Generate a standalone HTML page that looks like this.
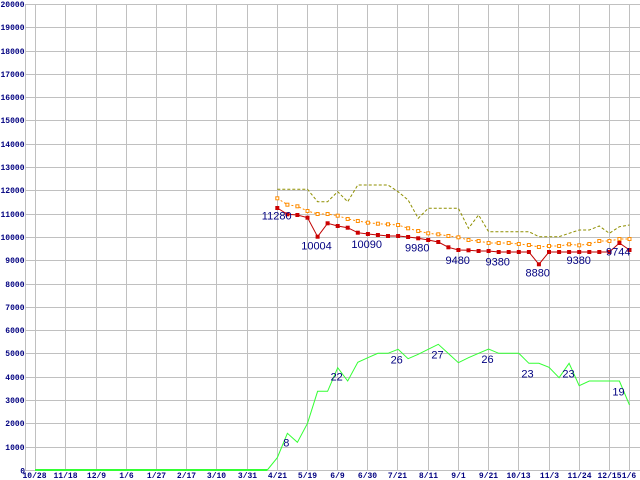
<!DOCTYPE html>
<html>
<head>
<meta charset="utf-8">
<style>
html,body{margin:0;padding:0;background:#fff;}
svg{display:block;}
.ax{font-family:"Liberation Mono",monospace;font-weight:bold;font-size:8px;fill:#000080;}
.lb{font-family:"Liberation Sans",sans-serif;font-size:11px;fill:#000080;text-anchor:middle;}
</style>
</head>
<body>
<svg width="640" height="480" viewBox="0 0 640 480" xmlns="http://www.w3.org/2000/svg">
<rect width="640" height="480" fill="#fff"/>
<g fill="#c0c0c0" shape-rendering="crispEdges">
<!-- horizontal gridlines -->
<rect x="25" y="470" width="615" height="1"/>
<rect x="25" y="447" width="615" height="1"/>
<rect x="25" y="423" width="615" height="1"/>
<rect x="25" y="400" width="615" height="1"/>
<rect x="25" y="377" width="615" height="1"/>
<rect x="25" y="353" width="615" height="1"/>
<rect x="25" y="330" width="615" height="1"/>
<rect x="25" y="307" width="615" height="1"/>
<rect x="25" y="284" width="615" height="1"/>
<rect x="25" y="260" width="615" height="1"/>
<rect x="25" y="237" width="615" height="1"/>
<rect x="25" y="214" width="615" height="1"/>
<rect x="25" y="190" width="615" height="1"/>
<rect x="25" y="167" width="615" height="1"/>
<rect x="25" y="144" width="615" height="1"/>
<rect x="25" y="120" width="615" height="1"/>
<rect x="25" y="97" width="615" height="1"/>
<rect x="25" y="74" width="615" height="1"/>
<rect x="25" y="51" width="615" height="1"/>
<rect x="25" y="27" width="615" height="1"/>
<rect x="25" y="4" width="615" height="1"/>
<!-- vertical gridlines -->
<rect x="25" y="4" width="1" height="467"/>
<rect x="35" y="4" width="1" height="467"/>
<rect x="65" y="4" width="1" height="467"/>
<rect x="96" y="4" width="1" height="467"/>
<rect x="126" y="4" width="1" height="467"/>
<rect x="156" y="4" width="1" height="467"/>
<rect x="186" y="4" width="1" height="467"/>
<rect x="216" y="4" width="1" height="467"/>
<rect x="247" y="4" width="1" height="467"/>
<rect x="277" y="4" width="1" height="467"/>
<rect x="307" y="4" width="1" height="467"/>
<rect x="337" y="4" width="1" height="467"/>
<rect x="367" y="4" width="1" height="467"/>
<rect x="397" y="4" width="1" height="467"/>
<rect x="428" y="4" width="1" height="467"/>
<rect x="458" y="4" width="1" height="467"/>
<rect x="488" y="4" width="1" height="467"/>
<rect x="518" y="4" width="1" height="467"/>
<rect x="549" y="4" width="1" height="467"/>
<rect x="579" y="4" width="1" height="467"/>
<rect x="609" y="4" width="1" height="467"/>
<rect x="629" y="4" width="1" height="467"/>
</g>

<!-- y axis labels -->
<g class="ax" text-anchor="end">
<text x="25" y="473.5">0</text>
<text x="24.5" y="450.2">1000</text>
<text x="24.5" y="426.2">2000</text>
<text x="24.5" y="403.2">3000</text>
<text x="24.5" y="380.2">4000</text>
<text x="24.5" y="356.2">5000</text>
<text x="24.5" y="333.2">6000</text>
<text x="24.5" y="310.2">7000</text>
<text x="24.5" y="287.2">8000</text>
<text x="24.5" y="263.2">9000</text>
<text x="24.5" y="240.2">10000</text>
<text x="24.5" y="217.2">11000</text>
<text x="24.5" y="193.2">12000</text>
<text x="24.5" y="170.2">13000</text>
<text x="24.5" y="147.2">14000</text>
<text x="24.5" y="123.2">15000</text>
<text x="24.5" y="100.2">16000</text>
<text x="24.5" y="77.2">17000</text>
<text x="24.5" y="54.2">18000</text>
<text x="24.5" y="30.2">19000</text>
<text x="24.5" y="7.2">20000</text>
</g>

<!-- x axis labels -->
<g class="ax" text-anchor="middle">
<text x="34.5" y="478">10/28</text>
<text x="65.5" y="478">11/18</text>
<text x="96.5" y="478">12/9</text>
<text x="126.5" y="478">1/6</text>
<text x="156.5" y="478">1/27</text>
<text x="186.5" y="478">2/17</text>
<text x="216.5" y="478">3/10</text>
<text x="247.5" y="478">3/31</text>
<text x="277.5" y="478">4/21</text>
<text x="307.5" y="478">5/19</text>
<text x="337.5" y="478">6/9</text>
<text x="367.5" y="478">6/30</text>
<text x="397.5" y="478">7/21</text>
<text x="428.5" y="478">8/11</text>
<text x="458.5" y="478">9/1</text>
<text x="488.5" y="478">9/21</text>
<text x="518.5" y="478">10/13</text>
<text x="549.5" y="478">11/3</text>
<text x="579.5" y="478">11/24</text>
<text x="609.5" y="478">12/15</text>
<text x="629" y="478">1/6</text>
</g>

<!-- green series -->
<polyline fill="none" stroke="#33ff33" stroke-width="2" points="35,470 267.3,470"/>
<polyline fill="none" stroke="#33ff33" stroke-width="1" points="267.3,470 277.3,457.7 287.4,433.3 297.4,442.3 307.5,423.3 317.6,391.3 327.6,391.3 337.7,367.7 347.7,381 357.8,362.3 367.9,357.7 377.9,353.3 388,353.3 398.1,349.3 408.1,358.7 418.2,354.3 428.2,349.3 438.3,344.3 448.4,353.5 458.4,362.7 468.5,357.7 478.6,353.3 488.6,349 498.7,353.3 508.7,353.3 518.8,353.3 528.9,363.3 538.9,363.3 549,367.3 559.1,377.7 569.1,363.3 579.2,385.7 589.3,381 599.3,381 609.4,381 619.4,381 629.5,405"/>

<!-- olive dashed series -->
<polyline fill="none" stroke="#8f8f00" stroke-width="1" stroke-dasharray="3,2" points="277.3,189.3 287.4,189.3 297.4,189.3 307.5,189.3 317.6,201.7 327.6,201.7 337.7,191.7 347.7,201.7 357.8,185 367.9,185 377.9,185 388,185 398.1,191.7 408.1,200 418.2,218.3 428.2,208.3 438.3,208.3 448.4,208.3 458.4,208.3 468.5,228.3 478.6,215 488.6,231.7 498.7,231.7 508.7,231.7 518.8,231.7 528.9,231.7 538.9,236.7 549,236.7 559.1,236.7 569.1,233.3 579.2,230 589.3,230 599.3,226 609.4,233.3 619.4,226.7 629.5,225"/>

<!-- orange dotted series -->
<polyline fill="none" stroke="#ff8c00" stroke-width="1" stroke-dasharray="2,2" points="277.3,198.3 287.4,204.7 297.4,206.3 307.5,211 317.6,214 327.6,214 337.7,215.7 347.7,219 357.8,221 367.9,222.7 377.9,223.7 388,224.3 398.1,225 408.1,228.3 418.2,231 428.2,233.3 438.3,234.3 448.4,236 458.4,237.3 468.5,240 478.6,241 488.6,243 498.7,243 508.7,243 518.8,244 528.9,245 538.9,247 549,246 559.1,246 569.1,244.3 579.2,245.3 589.3,244 599.3,241 609.4,241 619.4,239 629.5,239"/>
<g fill="#fff" stroke="#ff8c00" stroke-width="1">
<rect x="275.8" y="196.8" width="3" height="3"/>
<rect x="285.9" y="203.2" width="3" height="3"/>
<rect x="295.9" y="204.8" width="3" height="3"/>
<rect x="306" y="209.5" width="3" height="3"/>
<rect x="316.1" y="212.5" width="3" height="3"/>
<rect x="326.1" y="212.5" width="3" height="3"/>
<rect x="336.2" y="214.2" width="3" height="3"/>
<rect x="346.2" y="217.5" width="3" height="3"/>
<rect x="356.3" y="219.5" width="3" height="3"/>
<rect x="366.4" y="221.2" width="3" height="3"/>
<rect x="376.4" y="222.2" width="3" height="3"/>
<rect x="386.5" y="222.8" width="3" height="3"/>
<rect x="396.6" y="223.5" width="3" height="3"/>
<rect x="406.6" y="226.8" width="3" height="3"/>
<rect x="416.7" y="229.5" width="3" height="3"/>
<rect x="426.7" y="231.8" width="3" height="3"/>
<rect x="436.8" y="232.8" width="3" height="3"/>
<rect x="446.9" y="234.5" width="3" height="3"/>
<rect x="456.9" y="235.8" width="3" height="3"/>
<rect x="467" y="238.5" width="3" height="3"/>
<rect x="477.1" y="239.5" width="3" height="3"/>
<rect x="487.1" y="241.5" width="3" height="3"/>
<rect x="497.2" y="241.5" width="3" height="3"/>
<rect x="507.2" y="241.5" width="3" height="3"/>
<rect x="517.3" y="242.5" width="3" height="3"/>
<rect x="527.4" y="243.5" width="3" height="3"/>
<rect x="537.4" y="245.5" width="3" height="3"/>
<rect x="547.5" y="244.5" width="3" height="3"/>
<rect x="557.6" y="244.5" width="3" height="3"/>
<rect x="567.6" y="242.8" width="3" height="3"/>
<rect x="577.7" y="243.8" width="3" height="3"/>
<rect x="587.8" y="242.5" width="3" height="3"/>
<rect x="597.8" y="239.5" width="3" height="3"/>
<rect x="607.9" y="239.5" width="3" height="3"/>
<rect x="617.9" y="237.5" width="3" height="3"/>
<rect x="628" y="237.5" width="3" height="3"/>
</g>

<!-- red series -->
<polyline fill="none" stroke="#c00000" stroke-width="1" points="277.3,208 287.4,214.3 297.4,215 307.5,217.7 317.6,236.7 327.6,223.3 337.7,226 347.7,227.7 357.8,232.7 367.9,234 377.9,235 388,236 398.1,236 408.1,237 418.2,238.3 428.2,240 438.3,242 448.4,247.3 458.4,250 468.5,250.3 478.6,251 488.6,251 498.7,252 508.7,252 518.8,252 528.9,252 538.9,264.3 549,252 559.1,252 569.1,252 579.2,252 589.3,252 599.3,252 609.4,252 619.4,243 629.5,250"/>
<g fill="#cc0000">
<rect x="275.3" y="206" width="4" height="4"/>
<rect x="285.4" y="212.3" width="4" height="4"/>
<rect x="295.4" y="213" width="4" height="4"/>
<rect x="305.5" y="215.7" width="4" height="4"/>
<rect x="315.6" y="234.7" width="4" height="4"/>
<rect x="325.6" y="221.3" width="4" height="4"/>
<rect x="335.7" y="224" width="4" height="4"/>
<rect x="345.7" y="225.7" width="4" height="4"/>
<rect x="355.8" y="230.7" width="4" height="4"/>
<rect x="365.9" y="232" width="4" height="4"/>
<rect x="375.9" y="233" width="4" height="4"/>
<rect x="386" y="234" width="4" height="4"/>
<rect x="396.1" y="234" width="4" height="4"/>
<rect x="406.1" y="235" width="4" height="4"/>
<rect x="416.2" y="236.3" width="4" height="4"/>
<rect x="426.2" y="238" width="4" height="4"/>
<rect x="436.3" y="240" width="4" height="4"/>
<rect x="446.4" y="245.3" width="4" height="4"/>
<rect x="456.4" y="248" width="4" height="4"/>
<rect x="466.5" y="248.3" width="4" height="4"/>
<rect x="476.6" y="249" width="4" height="4"/>
<rect x="486.6" y="249" width="4" height="4"/>
<rect x="496.7" y="250" width="4" height="4"/>
<rect x="506.7" y="250" width="4" height="4"/>
<rect x="516.8" y="250" width="4" height="4"/>
<rect x="526.9" y="250" width="4" height="4"/>
<rect x="536.9" y="262.3" width="4" height="4"/>
<rect x="547" y="250" width="4" height="4"/>
<rect x="557.1" y="250" width="4" height="4"/>
<rect x="567.1" y="250" width="4" height="4"/>
<rect x="577.2" y="250" width="4" height="4"/>
<rect x="587.3" y="250" width="4" height="4"/>
<rect x="597.3" y="250" width="4" height="4"/>
<rect x="607.4" y="250" width="4" height="4"/>
<rect x="617.4" y="241" width="4" height="4"/>
<rect x="627.5" y="248" width="4" height="4"/>
</g>

<!-- value labels -->
<g class="lb">
<text x="276.7" y="219.7">11280</text>
<text x="316.5" y="249.7">10004</text>
<text x="366.7" y="248">10090</text>
<text x="417.3" y="251.3">9980</text>
<text x="457.7" y="264">9480</text>
<text x="497.7" y="265.3">9380</text>
<text x="537.7" y="276.3">8880</text>
<text x="578.7" y="264">9380</text>
<text x="618.3" y="255.3">9744</text>
<text x="286.3" y="446.5">8</text>
<text x="336.7" y="380.7">22</text>
<text x="396.7" y="363.7">26</text>
<text x="437.5" y="358.7">27</text>
<text x="487.5" y="363">26</text>
<text x="527.5" y="377.3">23</text>
<text x="568.5" y="377.3">23</text>
<text x="618.5" y="395.3">19</text>
</g>
</svg>
</body>
</html>
